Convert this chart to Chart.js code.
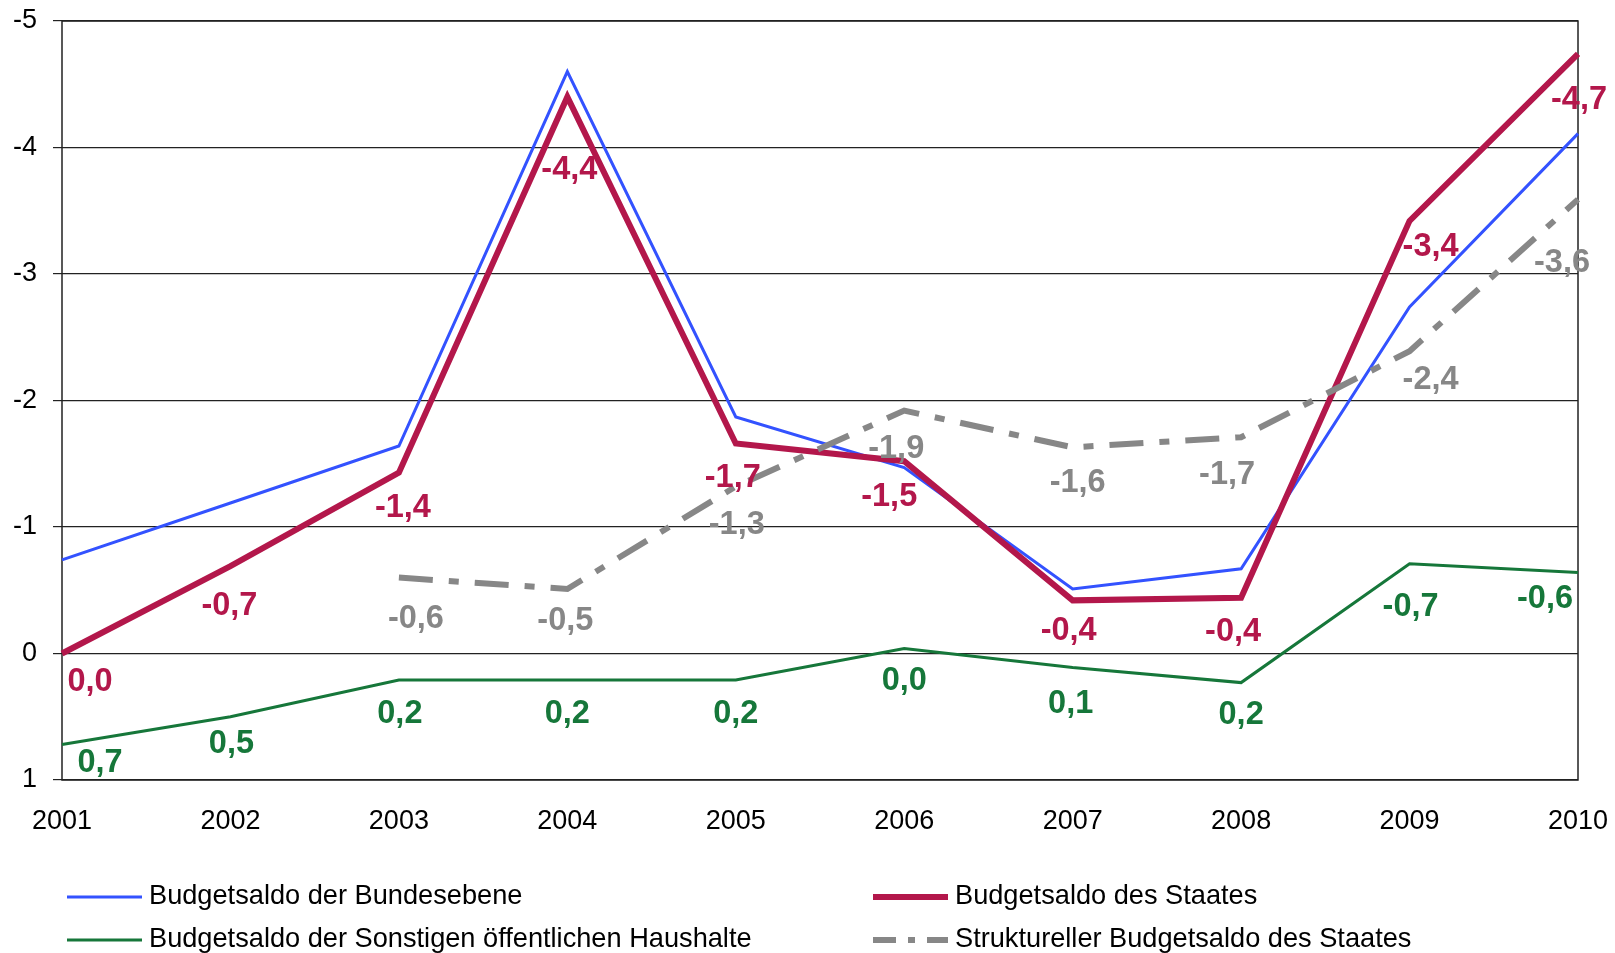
<!DOCTYPE html>
<html>
<head>
<meta charset="utf-8">
<title>Budgetsaldo 2001-2010</title>
<script src="https://cdn.jsdelivr.net/npm/chart.js@4.4.1/dist/chart.umd.min.js"></script>
<style>
    html, body { margin: 0; padding: 0; background: #fff; }
    canvas { display: block; }
</style>
</head>
<body>
<canvas id="chart" width="1615" height="953"></canvas>
<script>
// ---- data ----
const years = ['2001', '2002', '2003', '2004', '2005', '2006', '2007', '2008', '2009', '2010'];

const bundesebene = [-0.74, -1.19, -1.64, -4.60, -1.87, -1.47, -0.51, -0.67, -2.74, -4.11];
const staat       = [0.00, -0.69, -1.43, -4.40, -1.66, -1.52, -0.42, -0.44, -3.42, -4.74];
const sonstige    = [0.72, 0.50, 0.21, 0.21, 0.21, -0.04, 0.11, 0.23, -0.71, -0.64];
const strukturell = [null, null, -0.60, -0.51, -1.32, -1.92, -1.63, -1.71, -2.39, -3.59];

const seriesNames = [
    'Budgetsaldo der Bundesebene',
    'Budgetsaldo des Staates',
    'Budgetsaldo der Sonstigen öffentlichen Haushalte',
    'Struktureller Budgetsaldo des Staates'
];

const yTicks = [-5, -4, -3, -2, -1, 0, 1];

// colours
const BLUE = '#3352ff';
const RED = '#b3174b';
const GREEN = '#16773a';
const GREY = '#878787';

// value label look (offsets are label placement, not data)
const labelStyle = {
    staat: { color: RED, dx: [28, -1, 4, 2, -3, -15, -4, -8, 21, 1], dy: [27, 38, 33, 71, 33, 34, 29, 32, 24, 44] },
    sonstige: { color: GREEN, dx: [38, 1, 1, 0, 0, 0, -2, 0, 1, -33], dy: [16, 25, 32, 32, 32, 31, 35, 30, 41, 24] },
    strukturell: { color: GREY, dx: [0, 0, 17, -2, 1, -8, 5, -14, 21, -16], dy: [0, 0, 39, 30, 37, 36, 34, 36, 27, 62] }
};

function fmt(v) {
    let s = v.toFixed(1);
    if (s === '-0.0') s = '0.0';
    return s.replace('.', ',');
}

// draws the rounded values next to the points
const valueLabels = {
    id: 'valueLabels',
    afterDatasetsDraw(chart) {
        const ctx = chart.ctx;
        ctx.save();
        ctx.font = 'bold 32.5px "Liberation Sans", Arial, sans-serif';
        ctx.textAlign = 'center';
        ctx.textBaseline = 'middle';
        chart.data.datasets.forEach((ds, i) => {
            if (!ds.labelKey) return;
            const st = labelStyle[ds.labelKey];
            const meta = chart.getDatasetMeta(i);
            ctx.fillStyle = st.color;
            meta.data.forEach((pt, j) => {
                const v = ds.data[j];
                if (v === null || v === undefined) return;
                ctx.fillText(fmt(v), pt.x + st.dx[j], pt.y + st.dy[j] + 2);
            });
        });
        ctx.restore();
    }
};

// frame around the plot + two-column legend below
const frameAndLegend = {
    id: 'frameAndLegend',
    beforeDatasetsDraw(chart) {
        const { ctx, chartArea: a } = chart;
        ctx.save();
        ctx.strokeStyle = '#222';
        ctx.lineWidth = 1.5;
        ctx.strokeRect(a.left, a.top, a.right - a.left, a.bottom - a.top);
        ctx.restore();
    },
    afterDraw(chart) {
        const { ctx, chartArea: a } = chart;
        const cols = [a.left + 5, a.left + 811];
        const rows = [a.bottom + 117, a.bottom + 160];
        const slots = [[0, 0], [1, 0], [0, 1], [1, 1]];
        ctx.save();
        ctx.font = '27.2px "Liberation Sans", Arial, sans-serif';
        ctx.textBaseline = 'middle';
        ctx.textAlign = 'left';
        chart.data.datasets.forEach((ds, i) => {
            const x = cols[slots[i][0]];
            const y = rows[slots[i][1]];
            ctx.strokeStyle = ds.borderColor;
            ctx.lineWidth = ds.borderWidth;
            ctx.setLineDash(ds.legendDash || []);
            ctx.lineCap = 'butt';
            ctx.beginPath();
            ctx.moveTo(x, y);
            ctx.lineTo(x + 75, y);
            ctx.stroke();
            ctx.setLineDash([]);
            ctx.fillStyle = '#000';
            ctx.fillText(ds.label, x + 82, y);
        });
        ctx.restore();
    }
};

new Chart(document.getElementById('chart').getContext('2d'), {
    type: 'line',
    data: {
        labels: years,
        datasets: [
            {
                label: seriesNames[0],
                data: bundesebene,
                borderColor: BLUE,
                borderWidth: 3,
                order: 2
            },
            {
                label: seriesNames[1],
                data: staat,
                borderColor: RED,
                borderWidth: 6,
                order: 1,
                labelKey: 'staat'
            },
            {
                label: seriesNames[2],
                data: sonstige,
                borderColor: GREEN,
                borderWidth: 3,
                order: 3,
                labelKey: 'sonstige'
            },
            {
                label: seriesNames[3],
                data: strukturell,
                borderColor: GREY,
                borderWidth: 6,
                borderDash: [34, 16, 10, 16],
                borderCapStyle: 'butt',
                legendDash: [23, 12, 7, 12],
                order: 0,
                labelKey: 'strukturell'
            }
        ]
    },
    options: {
        responsive: false,
        animation: false,
        spanGaps: false,
        layout: { padding: { top: 21, right: 37, bottom: 103, left: 0 } },
        elements: {
            point: { radius: 0, hoverRadius: 0 },
            line: { tension: 0, borderJoinStyle: 'miter', fill: false }
        },
        scales: {
            x: {
                offset: false,
                grid: { display: false, drawTicks: false },
                border: { display: false },
                ticks: {
                    color: '#000',
                    padding: 25,
                    maxRotation: 0,
                    font: { family: '"Liberation Sans", Arial, sans-serif', size: 27 }
                },
                afterFit: s => {
                    s.height = 70;
                    s.paddingLeft = 0;
                    s.paddingRight = 0;
                }
            },
            y: {
                reverse: true,
                min: yTicks[0],
                max: yTicks[yTicks.length - 1],
                afterBuildTicks: s => { s.ticks = yTicks.map(v => ({ value: v })); },
                grid: { color: '#222', lineWidth: 1.2, tickLength: 9 },
                border: { display: false },
                ticks: {
                    color: '#000',
                    padding: 16,
                    font: { family: '"Liberation Sans", Arial, sans-serif', size: 27 },
                    callback: v => String(v)
                },
                afterFit: s => {
                    s.width = 62;
                    s.paddingTop = 0;
                    s.paddingBottom = 0;
                }
            }
        },
        plugins: {
            legend: { display: false },
            tooltip: { enabled: false }
        }
    },
    plugins: [valueLabels, frameAndLegend]
});
</script>
</body>
</html>
